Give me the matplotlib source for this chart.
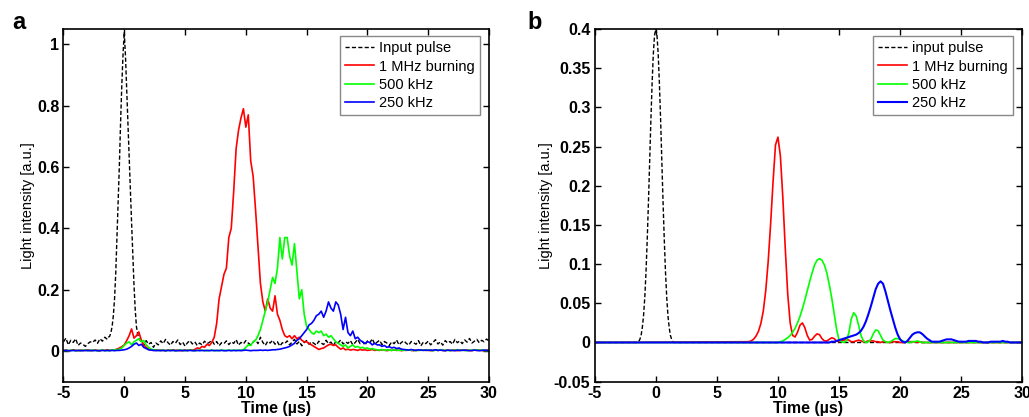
import numpy as np
import matplotlib
matplotlib.use("Agg")
import matplotlib.pyplot as plt

plt.rcParams['font.family'] = ['Liberation Sans', 'DejaVu Sans']
plt.rcParams['axes.unicode_minus'] = False

# ---------------- Panel a: measured transmission (noisy traces) ----------------
# Input pulse: noisy baseline before, sampled pulse, noisy baseline after
input_a_pre_t = np.round(np.arange(-5.0, -1.39, 0.2), 2)
input_a_pre = [0.030, 0.042, 0.020, 0.035, 0.028, 0.040, 0.018, 0.026, 0.022, 0.015,
               0.024, 0.030, 0.028, 0.036, 0.025, 0.040, 0.032, 0.045, 0.038]
input_a_pulse_t = np.round(np.arange(-1.3, 1.31, 0.1), 2)
input_a_pulse = [0.045, 0.048, 0.060, 0.080, 0.115, 0.170, 0.255, 0.370, 0.490, 0.610,
                 0.750, 0.870, 0.970, 1.040, 0.960, 0.850, 0.740, 0.630, 0.520, 0.420,
                 0.320, 0.215, 0.135, 0.080, 0.055, 0.042, 0.035]
input_a_post_t = np.round(np.arange(1.4, 30.01, 0.2), 2)
input_a_post = [
    0.030, 0.018, 0.034, 0.022, 0.028, 0.012, 0.026, 0.020, 0.033, 0.024, 0.038, 0.027,
    0.019, 0.031, 0.025, 0.036, 0.021, 0.029, 0.016, 0.027, 0.034, 0.023, 0.030, 0.018,
    0.026, 0.020, 0.032, 0.024, 0.028, 0.035, 0.022, 0.031, 0.017, 0.027, 0.024, 0.033,
    0.021, 0.030, 0.025, 0.037, 0.019, 0.028, 0.023, 0.034, 0.026, 0.020, 0.029, 0.036,
    0.024, 0.045, 0.028, 0.018, 0.032, 0.026, 0.035, 0.022, 0.030, 0.016, 0.027, 0.024,
    0.033, 0.020, 0.029, 0.038, 0.023, 0.031, 0.017, 0.028, 0.034, 0.022, 0.030, 0.025,
    0.019, 0.032, 0.026, 0.021, 0.035, 0.024, 0.029, 0.018, 0.031, 0.027, 0.036, 0.023,
    0.030, 0.025, 0.034, 0.020, 0.028, 0.038, 0.024, 0.031, 0.019, 0.033, 0.027, 0.040,
    0.022, 0.029, 0.035, 0.021, 0.031, 0.026, 0.018, 0.030, 0.024, 0.036, 0.020, 0.028,
    0.033, 0.025, 0.019, 0.031, 0.027, 0.022, 0.034, 0.017, 0.029, 0.024, 0.032, 0.020,
    0.028, 0.037, 0.023, 0.030, 0.019, 0.034, 0.026, 0.031, 0.022, 0.038, 0.027, 0.033,
    0.024, 0.036, 0.029, 0.041, 0.026, 0.032, 0.038, 0.027, 0.035, 0.030, 0.039, 0.033]

# Echo traces, sampled every 0.2 us from -5 to 30 us
time_a = np.round(np.arange(-5.0, 30.01, 0.2), 2)
mhz1_a = [
    0.002, 0.003, 0.001, 0.002, 0.004, 0.002, 0.001, 0.003, 0.002, 0.002,
    0.004, 0.001, 0.002, 0.003, 0.002, 0.001, 0.003, 0.002, 0.004, 0.002,
    0.003, 0.004, 0.006, 0.010, 0.014, 0.020, 0.034, 0.050, 0.072, 0.042,
    0.050, 0.062, 0.036, 0.020, 0.012, 0.006, 0.003, 0.002, 0.004, 0.002,
    0.003, 0.002, 0.001, 0.003, 0.002, 0.004, 0.002, 0.003, 0.001, 0.002,
    0.003, 0.002, 0.004, 0.003, 0.005, 0.010, 0.008, 0.015, 0.012, 0.022,
    0.018, 0.028, 0.045, 0.090, 0.170, 0.210, 0.250, 0.270, 0.370, 0.400,
    0.520, 0.660, 0.720, 0.760, 0.790, 0.730, 0.770, 0.620, 0.570, 0.460,
    0.340, 0.220, 0.160, 0.130, 0.170, 0.140, 0.130, 0.180, 0.120, 0.100,
    0.070, 0.050, 0.045, 0.050, 0.040, 0.050, 0.040, 0.045, 0.035, 0.030,
    0.030, 0.025, 0.020, 0.015, 0.010, 0.005, 0.008, 0.010, 0.015, 0.020,
    0.022, 0.018, 0.020, 0.012, 0.006, 0.010, 0.004, 0.006, 0.003, 0.005,
    0.004, 0.002, 0.005, 0.003, 0.004, 0.002, 0.003, 0.005, 0.002, 0.003,
    0.002, 0.004, 0.003, 0.001, 0.003, 0.002, 0.004, 0.002, 0.003, 0.001,
    0.003, 0.002, 0.004, 0.002, 0.001, 0.003, 0.002, 0.003, 0.004, 0.002,
    0.003, 0.001, 0.002, 0.004, 0.002, 0.003, 0.002, 0.001, 0.003, 0.002,
    0.002, 0.003, 0.001, 0.002, 0.004, 0.002, 0.003, 0.002, 0.001, 0.003,
    0.002, 0.003, 0.002, 0.001, 0.003, 0.002]
khz500_a = [
    0.001, 0.002, 0.001, 0.003, 0.002, 0.001, 0.002, 0.001, 0.003, 0.002,
    0.002, 0.001, 0.003, 0.002, 0.001, 0.002, 0.003, 0.002, 0.001, 0.002,
    0.003, 0.004, 0.004, 0.006, 0.010, 0.018, 0.026, 0.030, 0.020, 0.030,
    0.035, 0.040, 0.030, 0.034, 0.020, 0.012, 0.006, 0.004, 0.003, 0.002,
    0.002, 0.003, 0.001, 0.002, 0.003, 0.002, 0.001, 0.002, 0.003, 0.002,
    0.001, 0.002, 0.003, 0.002, 0.001, 0.002, 0.003, 0.002, 0.002, 0.001,
    0.002, 0.003, 0.002, 0.001, 0.002, 0.003, 0.002, 0.002, 0.003, 0.002,
    0.002, 0.003, 0.002, 0.003, 0.004, 0.012, 0.020, 0.018, 0.030, 0.035,
    0.050, 0.070, 0.100, 0.130, 0.160, 0.200, 0.240, 0.220, 0.270, 0.370,
    0.300, 0.370, 0.370, 0.310, 0.280, 0.350, 0.260, 0.170, 0.200, 0.120,
    0.080, 0.070, 0.060, 0.055, 0.065, 0.060, 0.065, 0.050, 0.055, 0.045,
    0.050, 0.040, 0.030, 0.025, 0.020, 0.015, 0.020, 0.010, 0.015, 0.020,
    0.012, 0.015, 0.010, 0.012, 0.008, 0.010, 0.006, 0.008, 0.005, 0.004,
    0.003, 0.005, 0.002, 0.004, 0.003, 0.002, 0.004, 0.003, 0.002, 0.003,
    0.002, 0.003, 0.004, 0.002, 0.003, 0.001, 0.003, 0.002, 0.004, 0.002,
    0.003, 0.002, 0.001, 0.003, 0.002, 0.004, 0.002, 0.003, 0.002, 0.001,
    0.003, 0.002, 0.004, 0.002, 0.003, 0.002, 0.001, 0.003, 0.002, 0.003,
    0.004, 0.002, 0.003, 0.002, 0.001, 0.002]
khz250_a = [
    0.001, 0.002, 0.001, 0.001, 0.002, 0.001, 0.002, 0.001, 0.001, 0.002,
    0.001, 0.002, 0.001, 0.002, 0.001, 0.001, 0.002, 0.001, 0.002, 0.001,
    0.002, 0.001, 0.002, 0.002, 0.003, 0.004, 0.006, 0.010, 0.015, 0.022,
    0.026, 0.018, 0.022, 0.012, 0.008, 0.004, 0.003, 0.002, 0.001, 0.002,
    0.001, 0.002, 0.001, 0.002, 0.001, 0.002, 0.001, 0.001, 0.002, 0.001,
    0.002, 0.001, 0.002, 0.001, 0.001, 0.002, 0.001, 0.002, 0.001, 0.002,
    0.001, 0.002, 0.001, 0.002, 0.001, 0.002, 0.001, 0.001, 0.002, 0.001,
    0.002, 0.001, 0.002, 0.001, 0.002, 0.003, 0.002, 0.001, 0.002, 0.002,
    0.002, 0.003, 0.002, 0.003, 0.002, 0.003, 0.004, 0.004, 0.005, 0.006,
    0.008, 0.010, 0.012, 0.015, 0.020, 0.025, 0.035, 0.040, 0.050, 0.060,
    0.070, 0.085, 0.090, 0.100, 0.115, 0.120, 0.130, 0.110, 0.130, 0.160,
    0.140, 0.130, 0.160, 0.150, 0.120, 0.070, 0.110, 0.060, 0.050, 0.065,
    0.040, 0.045, 0.035, 0.030, 0.025, 0.030, 0.028, 0.020, 0.025, 0.020,
    0.020, 0.015, 0.018, 0.012, 0.014, 0.010, 0.012, 0.008, 0.010, 0.006,
    0.005, 0.004, 0.003, 0.005, 0.003, 0.002, 0.004, 0.003, 0.002, 0.003,
    0.002, 0.003, 0.002, 0.004, 0.002, 0.003, 0.002, 0.001, 0.003, 0.002,
    0.002, 0.001, 0.003, 0.002, 0.002, 0.003, 0.002, 0.001, 0.002, 0.003,
    0.002, 0.001, 0.002, 0.003, 0.002, 0.002]

# ---------------- Panel b: simulated transmission ----------------
input_b_t = np.round(np.arange(-1.5, 1.51, 0.1), 2)
input_b = [0.000, 0.001, 0.004, 0.009, 0.019, 0.034, 0.057, 0.089, 0.130, 0.178,
           0.230, 0.283, 0.330, 0.368, 0.392, 0.400, 0.392, 0.368, 0.330, 0.283,
           0.230, 0.178, 0.130, 0.089, 0.057, 0.034, 0.019, 0.009, 0.004, 0.001,
           0.000]
mhz1_b_t = np.round(np.arange(7.6, 22.01, 0.2), 2)
mhz1_b = [0.001, 0.002, 0.004, 0.008, 0.014, 0.024, 0.040, 0.066, 0.103, 0.151,
          0.205, 0.252, 0.262, 0.238, 0.185, 0.120, 0.062, 0.025, 0.009, 0.007,
          0.013, 0.022, 0.025, 0.019, 0.009, 0.003, 0.004, 0.008, 0.011, 0.010,
          0.005, 0.002, 0.002, 0.004, 0.006, 0.005, 0.002, 0.001, 0.002, 0.003,
          0.004, 0.003, 0.001, 0.001, 0.002, 0.003, 0.002, 0.001, 0.001, 0.002,
          0.002, 0.002, 0.001, 0.001, 0.000, 0.001, 0.001, 0.000, 0.000, 0.001,
          0.001, 0.001, 0.000, 0.000, 0.000, 0.001, 0.001, 0.001, 0.001, 0.000,
          0.001, 0.000, 0.000]
khz500_b_t = np.round(np.arange(10.0, 22.01, 0.2), 2)
khz500_b = [0.000, 0.001, 0.002, 0.004, 0.006, 0.009, 0.013, 0.018, 0.025, 0.033,
            0.043, 0.054, 0.066, 0.078, 0.089, 0.099, 0.105, 0.107, 0.105, 0.099,
            0.089, 0.074, 0.057, 0.037, 0.017, 0.003, 0.001, 0.000, 0.002, 0.012,
            0.030, 0.038, 0.034, 0.022, 0.009, 0.002, 0.000, 0.001, 0.004, 0.011,
            0.016, 0.015, 0.009, 0.003, 0.001, 0.000, 0.001, 0.003, 0.005, 0.005,
            0.004, 0.002, 0.001, 0.000, 0.000, 0.001, 0.001, 0.002, 0.001, 0.000,
            0.000]
khz250_b_t = np.round(np.arange(14.0, 29.01, 0.2), 2)
khz250_b = [0.000, 0.000, 0.001, 0.001, 0.002, 0.003, 0.004, 0.005, 0.006, 0.007,
            0.008, 0.009, 0.010, 0.012, 0.015, 0.020, 0.027, 0.036, 0.046, 0.057,
            0.068, 0.075, 0.078, 0.075, 0.065, 0.053, 0.041, 0.030, 0.019, 0.010,
            0.004, 0.001, 0.000, 0.002, 0.006, 0.010, 0.012, 0.013, 0.013, 0.011,
            0.008, 0.005, 0.003, 0.001, 0.001, 0.001, 0.001, 0.002, 0.003, 0.004,
            0.004, 0.004, 0.003, 0.002, 0.001, 0.001, 0.001, 0.001, 0.002, 0.002,
            0.002, 0.002, 0.001, 0.001, 0.000, 0.000, 0.000, 0.001, 0.001, 0.001,
            0.001, 0.001, 0.002, 0.001, 0.001, 0.000]

legend_a = ['Input pulse', '1 MHz burning', '500 kHz', '250 kHz']
legend_b = ['input pulse', '1 MHz burning', '500 kHz', '250 kHz']
x_ticks = [-5, 0, 5, 10, 15, 20, 25, 30]
y_ticks_a = [0, 0.2, 0.4, 0.6, 0.8, 1.0]
y_ticks_b = [-0.05, 0, 0.05, 0.1, 0.15, 0.2, 0.25, 0.3, 0.35, 0.4]

T0, T1 = -5.0, 30.0


def padded(t, y):
    """Extend a trace that is zero outside its sampled window across the full time range."""
    return np.r_[T0, t, T1], np.r_[0.0, y, 0.0]


fig = plt.figure(figsize=(10.29, 4.17), dpi=100)
ax_a = fig.add_axes([0.0617, 0.0847, 0.4135, 0.8458])
ax_b = fig.add_axes([0.5779, 0.0847, 0.4156, 0.8458])

dash = (0, (3.0, 1.6))

# panel a
t_in_a = np.r_[input_a_pre_t, input_a_pulse_t, input_a_post_t]
y_in_a = np.r_[input_a_pre, input_a_pulse, input_a_post]
ax_a.plot(t_in_a, y_in_a, color='black', lw=1.0, ls=dash, label=legend_a[0])
ax_a.plot(time_a, mhz1_a, color='#ff0000', lw=1.2, label=legend_a[1])
ax_a.plot(time_a, khz500_a, color='#00ff00', lw=1.2, label=legend_a[2])
ax_a.plot(time_a, khz250_a, color='#0000ff', lw=1.2, label=legend_a[3])
ax_a.set_ylim(-0.1, 1.05)
ax_a.set_yticks(y_ticks_a)
ax_a.set_yticklabels(['0', '0.2', '0.4', '0.6', '0.8', '1'])

# panel b
ax_b.plot(*padded(input_b_t, input_b), color='black', lw=1.0, ls=dash, label=legend_b[0])
ax_b.plot(*padded(mhz1_b_t, mhz1_b), color='#ff0000', lw=1.2, label=legend_b[1])
ax_b.plot(*padded(khz500_b_t, khz500_b), color='#00ff00', lw=1.2, label=legend_b[2])
ax_b.plot(*padded(khz250_b_t, khz250_b), color='#0000ff', lw=1.5, label=legend_b[3])
ax_b.set_ylim(-0.05, 0.4)
ax_b.set_yticks(y_ticks_b)
ax_b.set_yticklabels(['-0.05', '0', '0.05', '0.1', '0.15', '0.2', '0.25', '0.3', '0.35', '0.4'])

for ax, pad in ((ax_a, 1.5), (ax_b, 0.5)):
    ax.set_xlim(T0, T1)
    ax.set_xticks(x_ticks)
    ax.tick_params(direction='in', top=True, right=True, length=4, width=1.0,
                   labelsize=11.5, pad=3)
    for lab in ax.get_xticklabels() + ax.get_yticklabels():
        lab.set_fontweight('bold')
    for s in ax.spines.values():
        s.set_linewidth(1.2)
    ax.set_xlabel('Time (\u00b5s)', fontsize=11.5, fontweight='bold', labelpad=0)
    ax.set_ylabel('Light intensity [a.u.]', fontsize=10.5, labelpad=pad)
    leg = ax.legend(loc='upper right', bbox_to_anchor=(0.979, 0.980), borderaxespad=0,
                    fontsize=10.5, handlelength=2.0, handletextpad=0.35,
                    labelspacing=0.3, borderpad=0.35, fancybox=False, framealpha=1)
    leg.get_frame().set_edgecolor('#888888')
    leg.get_frame().set_linewidth(1.0)

fig.text(0.012, 0.945, 'a', fontsize=17, fontweight='bold', va='center')
fig.text(0.513, 0.945, 'b', fontsize=17, fontweight='bold', va='center')

fig.savefig('out.png', dpi=100)
